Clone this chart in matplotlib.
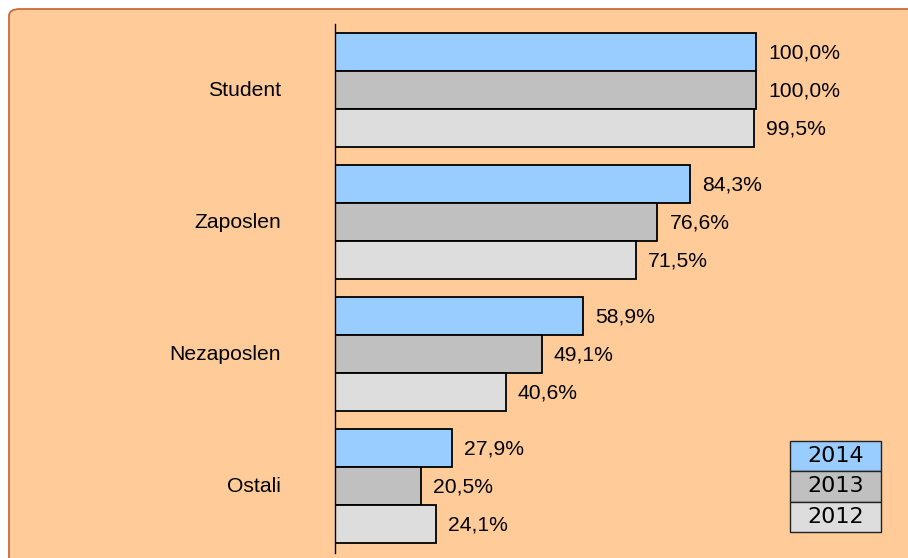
import numpy as np
import matplotlib.pyplot as plt
import matplotlib.patches as patches

###############################################################################
# Data
###############################################################################
categories = ['Student', 'Zaposlen', 'Nezaposlen', 'Ostali']
years = ['2014', '2013', '2012']
v2014 = [100.0, 84.3, 58.9, 27.9]
v2013 = [100.0, 76.6, 49.1, 20.5]
v2012 = [99.5, 71.5, 40.6, 24.1]
series = [v2014, v2013, v2012]
###############################################################################
# Style
###############################################################################
COLORS = ['#99CCFF', '#C0C0C0', '#DDDDDD']
(BG, EDGE) = ('#FFCC99', '#C8602E')
(W, H, DPI) = (908, 558, 100)
FONT = 'Liberation Sans'
FSIZE = 15.2
(GROUP_STEP, BAR_H) = (132, 38)
###############################################################################
# Figure
###############################################################################
fig = plt.figure(figsize=(W/DPI, H/DPI), dpi=DPI)
fig.patch.set_facecolor('white')
fig.patches.append(
    patches.FancyBboxPatch(
        (9/W, 1 - 9/H - (H + 20)/H), (W + 20)/W, (H + 20)/H,
        boxstyle='round,pad=0,rounding_size=0.012',
        transform=fig.transFigure, facecolor=BG, edgecolor=EDGE,
        linewidth=1.2, zorder=-5
    )
)
# axes: x from 335px to right edge, y from 24px to 553px
(x0, y0, y1) = (335, 24, 553)
ax = fig.add_axes([x0/W, 1 - y1/H, 1 - x0/W, (y1 - y0)/H])
ax.patch.set_alpha(0)
pxPerPct = 421/100
ax.set_xlim(0, (W - x0)/pxPerPct)
ax.set_ylim(y1, y0)
centers = 90 + GROUP_STEP*np.arange(len(categories))
for (j, vals) in enumerate(series):
    ypos = centers + (j - 1)*BAR_H
    ax.barh(
        ypos, vals, height=BAR_H, color=COLORS[j],
        edgecolor='black', linewidth=1.3, zorder=2
    )
    for (y, v) in zip(ypos, vals):
        ax.text(
            v + 12/pxPerPct, y + 1, '{:.1f}%'.format(v).replace('.', ','),
            va='center', ha='left', fontsize=FSIZE, family=FONT,
            clip_on=False
        )
for (c, name) in zip(centers, categories):
    ax.text(
        -54/pxPerPct, c + 1, name, va='center', ha='right',
        fontsize=FSIZE, family=FONT, clip_on=False
    )
for s in ['top', 'right', 'bottom']:
    ax.spines[s].set_visible(False)
ax.spines['left'].set_linewidth(1.0)
ax.set_xticks([])
ax.set_yticks([])
# Legend ----------------------------------------------------------------------
(lx, ly, lw, lh) = (790, 441, 91, 30.3)
for (j, yr) in enumerate(years):
    top = ly + j*lh
    fig.patches.append(
        patches.Rectangle(
            (lx/W, 1 - (top + lh)/H), lw/W, lh/H,
            transform=fig.transFigure, facecolor=COLORS[j],
            edgecolor='#222222', linewidth=1.0, zorder=3
        )
    )
    fig.text(
        (lx + lw/2)/W, 1 - (top + lh/2)/H, yr, ha='center', va='center',
        fontsize=16, family='DejaVu Sans', zorder=4
    )
fig.savefig('out.png', dpi=DPI)
